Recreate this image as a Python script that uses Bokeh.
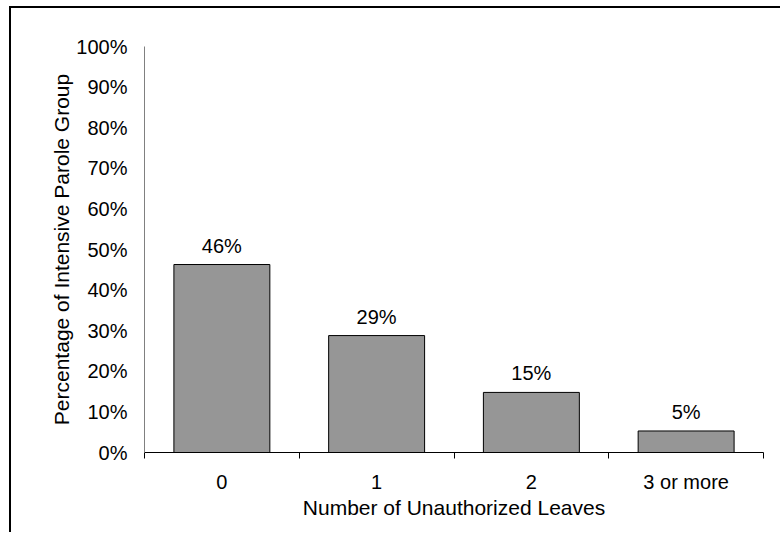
from bokeh.plotting import figure
from bokeh.models import ColumnDataSource, FixedTicker, PrintfTickFormatter, LabelSet, Range1d
from bokeh.core.properties import value
from bokeh.embed import file_html
from bokeh.resources import INLINE

categories = ["0", "1", "2", "3 or more"]
percent = [46.3, 28.8, 14.8, 5.3]
bar_labels = ["46%", "29%", "15%", "5%"]
y_ticks = [0, 10, 20, 30, 40, 50, 60, 70, 80, 90, 100]

FONT = "Liberation Sans"

xpos = [i + 0.5 for i in range(len(categories))]
src = ColumnDataSource(dict(x=xpos, top=percent, lab=bar_labels))

p = figure(width=771, height=526, output_backend="svg", toolbar_location=None,
           x_range=Range1d(0, len(categories)), y_range=Range1d(0, 100),
           min_border_left=133, min_border_right=19, min_border_top=38, min_border_bottom=82)
p.margin = (6, 0, 0, 9)
p.styles = {"border-top": "2px solid black", "border-left": "2px solid black"}
p.outline_line_color = None
p.background_fill_color = "white"
p.border_fill_color = "white"
p.xgrid.visible = False
p.ygrid.visible = False

p.vbar(x="x", top="top", width=0.62, bottom=0, source=src,
       fill_color="#969696", line_color="black", line_width=1)

labels = LabelSet(x="x", y="top", text="lab", source=src, text_align="center",
                  text_baseline="alphabetic", y_offset=12, text_font=value(FONT),
                  text_font_size=value("20px"), text_color="black")
p.add_layout(labels)

# y axis
ya = p.yaxis[0]
ya.ticker = FixedTicker(ticks=y_ticks)
ya.formatter = PrintfTickFormatter(format="%d%%")
ya.major_tick_out = 0
ya.major_tick_in = 0
ya.minor_tick_out = 0
ya.minor_tick_in = 0
ya.axis_line_color = "#808080"
ya.major_label_standoff = 17
ya.major_label_text_font = FONT
ya.major_label_text_font_size = "20px"
ya.major_label_text_color = "black"
ya.axis_label = "Percentage of Intensive Parole Group"
ya.axis_label_text_font = FONT
ya.axis_label_text_font_size = "21px"
ya.axis_label_text_font_style = "normal"
ya.axis_label_text_color = "black"
ya.axis_label_standoff = 0

# x axis
xa = p.xaxis[0]
xa.ticker = FixedTicker(ticks=xpos, minor_ticks=list(range(len(categories) + 1)))
xa.major_label_overrides = {x: c for x, c in zip(xpos, categories)}
xa.major_tick_out = 0
xa.major_tick_in = 0
xa.minor_tick_out = 6
xa.minor_tick_in = 0
xa.minor_tick_line_color = "black"
xa.axis_line_color = "black"
xa.major_label_standoff = 12
xa.major_label_text_font = FONT
xa.major_label_text_font_size = "20px"
xa.major_label_text_color = "black"
xa.axis_label = "Number of Unauthorized Leaves"
xa.axis_label_text_font = FONT
xa.axis_label_text_font_size = "21px"
xa.axis_label_text_font_style = "normal"
xa.axis_label_text_color = "black"
xa.axis_label_standoff = 0

open("out.html", "w").write(file_html(p, INLINE))
